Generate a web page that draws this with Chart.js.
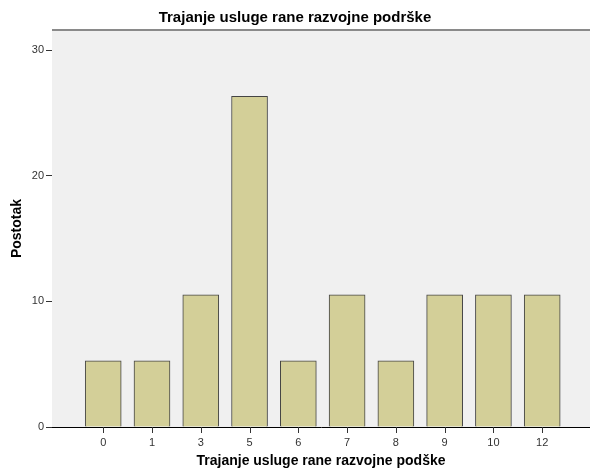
<!DOCTYPE html>
<html>
<head>
<meta charset="utf-8">
<script src="https://cdn.jsdelivr.net/npm/chart.js@4"></script>
<style>
html,body{margin:0;padding:0;background:#fff;}
#wrap{width:590px;height:470px;}
</style>
</head>
<body>
<div id="wrap"><canvas id="c" width="590" height="470"></canvas></div>
<script>
const categories = ['0','1','3','5','6','7','8','9','10','12'];
const values = [5.26,5.26,10.53,26.32,5.26,10.53,5.26,10.53,10.53,10.53];
const yTicks = [0,10,20,30];
const titleText = 'Trajanje usluge rane razvojne podrške';
const xTitle = 'Trajanje usluge rane razvojne podške';
const yTitle = 'Postotak';

const FONT = "'Liberation Sans', Arial, sans-serif";

const bgPlugin = {
  id: 'bg',
  beforeDatasetsDraw(chart) {
    const {ctx, chartArea: a} = chart;
    ctx.save();
    ctx.fillStyle = '#f0f0f0';
    ctx.fillRect(a.left, a.top, a.right - a.left, a.bottom - a.top);
    ctx.strokeStyle = '#8a8a8a';
    ctx.lineWidth = 2;
    ctx.beginPath();
    ctx.moveTo(a.left, a.top);
    ctx.lineTo(a.right, a.top);
    ctx.stroke();
    ctx.restore();
  },
  afterDraw(chart) {
    const ctx = chart.ctx;
    const a = chart.chartArea;
    const xs = chart.scales.x;
    ctx.save();
    ctx.fillStyle = '#333333';
    for (let i = 0; i < categories.length; i++) {
      const px = Math.round(xs.getPixelForValue(i));
      ctx.fillRect(px, Math.round(a.bottom), 1, 6);
    }
    ctx.restore();
  }
};

new Chart(document.getElementById('c'), {
  type: 'bar',
  data: {
    datasets: [{
      data: values.map((v, i) => ({x: i, y: v})),
      backgroundColor: '#d3cf98',
      borderColor: '#444444',
      borderWidth: 1,
      barThickness: 36
    }]
  },
  options: {
    responsive: false,
    animation: false,
    devicePixelRatio: 1,
    layout: {padding: {left: 0, right: 0, top: 0, bottom: 0}},
    plugins: {
      legend: {display: false},
      tooltip: {enabled: false},
      title: {
        display: true,
        text: titleText,
        color: '#000',
        font: {family: FONT, size: 15, weight: 'bold'},
        padding: {top: 9, bottom: 3}
      }
    },
    scales: {
      x: {
        type: 'linear',
        offset: false,
        min: -1.05,
        max: 9.98,
        afterBuildTicks(scale) {
          scale.ticks = categories.map((c, i) => ({value: i}));
        },
        afterFit(scale) { scale.height = 43; },
        ticks: {
          autoSkip: false,
          maxRotation: 0,
          color: '#333',
          font: {family: FONT, size: 11},
          padding: 9,
          callback: (v) => categories[v] ?? ''
        },
        grid: {offset: false, drawOnChartArea: false, drawTicks: false},
        border: {display: true, color: '#000', width: 1},
        title: {
          display: true,
          text: xTitle,
          color: '#000',
          font: {family: FONT, size: 14, weight: 'bold'},
          padding: {top: 0, bottom: 0}
        }
      },
      y: {
        min: 0,
        max: 31.6,
        afterBuildTicks(scale) {
          scale.ticks = yTicks.map(v => ({value: v}));
        },
        afterFit(scale) { scale.width = 52; },
        ticks: {
          color: '#333',
          font: {family: FONT, size: 11},
          padding: 2
        },
        grid: {drawOnChartArea: false, drawTicks: true, tickLength: 6, tickColor: '#333', tickWidth: 1},
        border: {display: true, color: '#000', width: 1},
        title: {
          display: true,
          text: yTitle,
          color: '#000',
          font: {family: FONT, size: 14, weight: 'bold'},
          padding: {top: 9, bottom: 0}
        }
      }
    }
  },
  plugins: [bgPlugin]
});
</script>
</body>
</html>
